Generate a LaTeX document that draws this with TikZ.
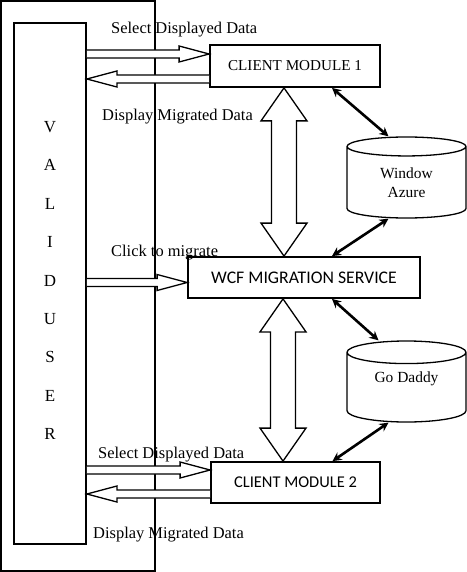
\documentclass[tikz,border=0pt]{standalone}
\usepackage{fontspec}
\setmainfont{Liberation Serif}
\newfontfamily\calibri{Carlito}
\usetikzlibrary{calc,shapes.geometric,arrows.meta}

% hollow block arrow from tail #1 to tip #2
\newcommand{\hollowarrow}[2]{%
  \draw[hollow] let \p1=#1, \p2=#2, \n1={atan2(\y2-\y1,\x2-\x1)} in
    ($(\p1)+(\n1+90:4bp)$) -- ($(\p2)+(\n1+180:30bp)+(\n1+90:4bp)$)
    -- ($(\p2)+(\n1+180:30bp)+(\n1+90:8bp)$) -- (\p2)
    -- ($(\p2)+(\n1+180:30bp)+(\n1-90:8bp)$)
    -- ($(\p2)+(\n1+180:30bp)+(\n1-90:4bp)$) -- ($(\p1)+(\n1-90:4bp)$);}
% hollow block arrow with a head at both ends
\newcommand{\twinarrow}[2]{%
  \draw[hollow] let \p1=#1, \p2=#2, \n1={atan2(\y2-\y1,\x2-\x1)} in
    (\p1) -- ($(\p1)+(\n1:33bp)+(\n1+90:23bp)$) -- ($(\p1)+(\n1:33bp)+(\n1+90:12.5bp)$)
    -- ($(\p2)+(\n1+180:33bp)+(\n1+90:12.5bp)$) -- ($(\p2)+(\n1+180:33bp)+(\n1+90:23bp)$)
    -- (\p2)
    -- ($(\p2)+(\n1+180:33bp)+(\n1-90:23bp)$) -- ($(\p2)+(\n1+180:33bp)+(\n1-90:12.5bp)$)
    -- ($(\p1)+(\n1:33bp)+(\n1-90:12.5bp)$) -- ($(\p1)+(\n1:33bp)+(\n1-90:23bp)$) -- cycle;}

\begin{document}
\begin{tikzpicture}[
                x=1bp, y=-1bp,
                hollow/.style={draw, line width=1.3bp, fill=white, line join=miter},
                module/.style={draw, line width=1.8bp, rectangle, inner sep=0pt},
                store/.style={draw, line width=1.3bp, cylinder, shape border rotate=90,
                    aspect=0.32, minimum width=119bp, minimum height=81bp, anchor=shape center,
                    font=\fontsize{15.5}{20}\selectfont, align=center},
                letter/.style={font=\fontsize{17}{18}\selectfont},
                note/.style={anchor=west, inner sep=0pt, font=\fontsize{16.5}{18}\selectfont},
                link/.style={line width=2.6bp, {Stealth[length=9bp,width=9bp]}-{Stealth[length=9bp,width=9bp]}}
            ]
            \useasboundingbox (0,0) rectangle (467,572);

            % outer frame and valid user column
            \draw[line width=1.3bp] (1,1) rectangle (155,571);
            \node[module, minimum width=72bp, minimum height=521bp] (user) at (50,283.5) {};
            \foreach \ch [count=\i] in {V,A,L,I,D,U,S,E,R}
                \node[letter] (l\i) at (50,{127+38.4*(\i-1)}) {\ch};

            % modules
            \node[module, minimum width=170bp, minimum height=42bp,
                  font=\fontsize{15.2}{18}\selectfont] (cm1) at (295,66) {CLIENT MODULE 1};
            \node[module, minimum width=232bp, minimum height=41bp,
                  font=\calibri\fontsize{17.8}{20}\selectfont] (wcf) at (304,277.5) {WCF MIGRATION SERVICE};
            \node[module, minimum width=169bp, minimum height=41bp,
                  font=\calibri\fontsize{16.5}{20}\selectfont] (cm2) at (295.5,482.5) {CLIENT MODULE 2};

            % clouds
            \node[store] (azure) at (406.5,177.5) {\raisebox{3bp}{Window}\\\raisebox{3bp}{Azure}};
            \node[store] (daddy) at (406.5,381.5) {\raisebox{7bp}[0pt][0pt]{Go Daddy}};

            % user <-> modules
            \coordinate (sel1) at ([yshift=12bp]cm1.west);
            \coordinate (disp1) at ([yshift=-13bp]cm1.west);
            \coordinate (click) at ([yshift=-5bp]wcf.west);
            \coordinate (sel2) at ([yshift=12.5bp]cm2.west);
            \coordinate (disp2) at ([yshift=-11.5bp]cm2.west);
            \hollowarrow{(user.east |- sel1)}{(sel1)}
            \hollowarrow{(disp1)}{(user.east |- disp1)}
            \hollowarrow{(user.east |- click)}{(click)}
            \hollowarrow{(user.east |- sel2)}{(sel2)}
            \hollowarrow{(disp2)}{(user.east |- disp2)}

            \node[note] (t1) at (111,30) {Select Displayed Data};
            \node[note] (t2) at (102,117) {Display Migrated Data};
            \node[note] (t3) at (111,253) {Click to migrate};
            \node[note] (t4) at (98,455) {Select Displayed Data};
            \node[note] (t5) at (93,535) {Display Migrated Data};

            % modules <-> service
            \coordinate (up1) at ([xshift=-11bp]cm1.south);
            \coordinate (up2) at ([xshift=-12.5bp]cm2.north);
            \twinarrow{(up1)}{(up1 |- wcf.north)}
            \twinarrow{(up2 |- wcf.south)}{(up2)}

            % modules <-> clouds
            \draw[link] ([xshift=37bp]cm1.south) -- ([xshift=-18bp]azure.north);
            \draw[link] ([xshift=-18bp]azure.south) -- ([xshift=28bp]wcf.north);
            \draw[link] ([xshift=28bp]wcf.south) -- ([xshift=-28bp]daddy.north);
            \draw[link] ([xshift=-18bp]daddy.south) -- ([xshift=37bp]cm2.north);

        \end{tikzpicture}
\end{document}
